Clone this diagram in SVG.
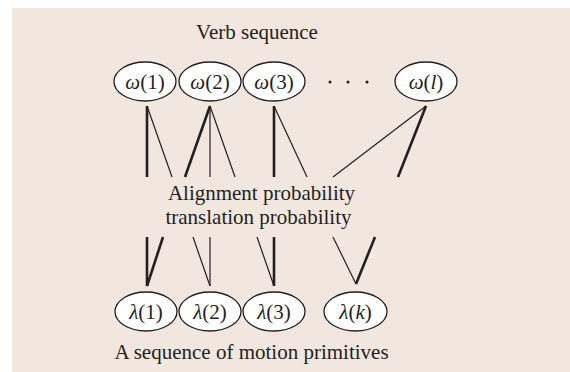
<svg xmlns="http://www.w3.org/2000/svg" width="570" height="372" viewBox="0 0 570 372">
<style>
text{font-family:"Liberation Serif","Times New Roman",serif;fill:#231f20}
.lbl{font-size:21px;text-anchor:middle}
.nd{font-size:21px;text-anchor:middle}
.it{font-style:italic}
ellipse{fill:#fff;stroke:#231f20;stroke-width:1.3}
.thin{stroke:#231f20;stroke-width:1.2;fill:none}
.thick{stroke:#231f20;stroke-width:2.6;fill:none}
</style>
<rect x="12" y="8" width="558" height="364" fill="#f2e7de"/>
<text class="lbl" x="257" y="39">Verb sequence</text>
<g id="w1"><ellipse cx="145" cy="81.5" rx="31" ry="19.5"/><text class="nd" x="145" y="89"><tspan class="it">ω</tspan>(1)</text></g>
<g id="w2"><ellipse cx="210" cy="81.5" rx="31" ry="19.5"/><text class="nd" x="210" y="89"><tspan class="it">ω</tspan>(2)</text></g>
<g id="w3"><ellipse cx="274" cy="81.5" rx="31" ry="19.5"/><text class="nd" x="274" y="89"><tspan class="it">ω</tspan>(3)</text></g>
<g id="dots"><circle cx="330" cy="82" r="1.5" fill="#231f20"/><circle cx="348" cy="82" r="1.5" fill="#231f20"/><circle cx="367" cy="82" r="1.5" fill="#231f20"/></g>
<g id="wl"><ellipse cx="426" cy="81.5" rx="31" ry="19.5"/><text class="nd" x="426" y="89"><tspan class="it">ω</tspan>(<tspan class="it">l</tspan>)</text></g>
<g id="connectors">
<line class="thick" x1="147" y1="106" x2="147" y2="177"/>
<line class="thin" x1="147" y1="106" x2="172" y2="177"/>
<line class="thick" x1="210" y1="106" x2="185" y2="177"/>
<line class="thin" x1="210" y1="106" x2="210" y2="177"/>
<line class="thin" x1="210" y1="106" x2="235" y2="177"/>
<line class="thick" x1="274" y1="106" x2="274" y2="177"/>
<line class="thin" x1="274" y1="106" x2="307" y2="177"/>
<line class="thin" x1="426" y1="106" x2="333" y2="177"/>
<line class="thick" x1="426" y1="106" x2="398" y2="177"/>
<line class="thick" x1="147" y1="237" x2="147" y2="286"/>
<line class="thick" x1="163" y1="237" x2="147" y2="286"/>
<line class="thin" x1="193" y1="237" x2="210" y2="286"/>
<line class="thin" x1="210" y1="237" x2="210" y2="286"/>
<line class="thin" x1="257" y1="237" x2="274" y2="286"/>
<line class="thick" x1="274" y1="237" x2="274" y2="286"/>
<line class="thin" x1="333" y1="237" x2="356" y2="284"/>
<line class="thick" x1="375" y1="237" x2="356" y2="284"/>
</g>
<text class="lbl" x="261.5" y="200">Alignment probability</text>
<text class="lbl" x="258.5" y="224">translation probability</text>
<g id="l1"><ellipse cx="146" cy="311.5" rx="31" ry="19.5"/><text class="nd" x="146" y="319"><tspan class="it">λ</tspan>(1)</text></g>
<g id="l2"><ellipse cx="210" cy="311.5" rx="31" ry="19.5"/><text class="nd" x="210" y="319"><tspan class="it">λ</tspan>(2)</text></g>
<g id="l3"><ellipse cx="274" cy="311.5" rx="31" ry="19.5"/><text class="nd" x="274" y="319"><tspan class="it">λ</tspan>(3)</text></g>
<g id="lk"><ellipse cx="355.5" cy="311.5" rx="31.5" ry="19.5"/><text class="nd" x="355.5" y="319"><tspan class="it">λ</tspan>(<tspan class="it">k</tspan>)</text></g>
<text class="lbl" x="251.5" y="359">A sequence of motion primitives</text>
</svg>
